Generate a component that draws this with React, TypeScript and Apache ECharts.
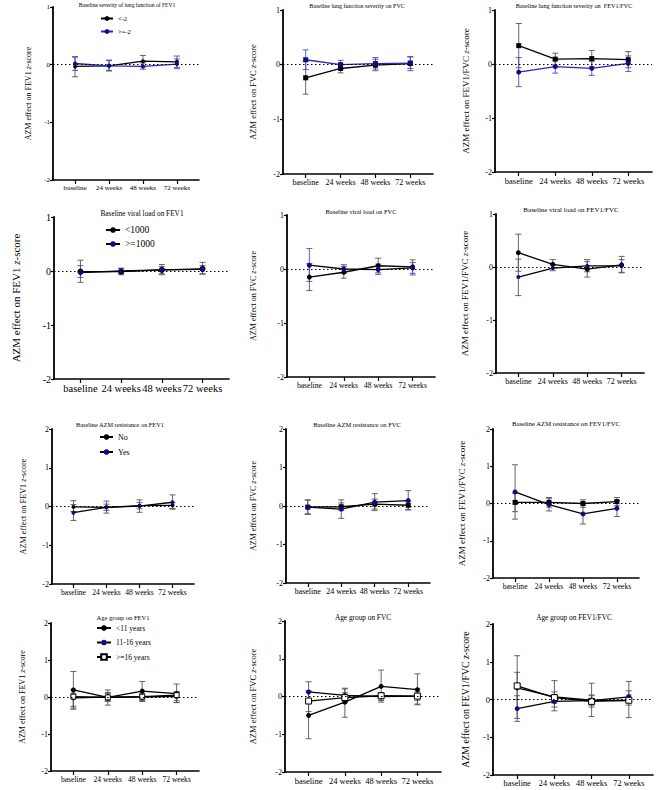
import React, { useEffect, useRef } from "react";
import * as echarts from "echarts";

const categories = ["baseline", "24 weeks", "48 weeks", "72 weeks"];

// Panel 1: Baseline severity of lung function of FEV1
const p1A_mean = [-0.03, -0.02, 0.06, 0.05];
const p1A_lo = [-0.21, -0.11, -0.04, -0.05];
const p1A_hi = [0.13, 0.08, 0.16, 0.15];
const p1B_mean = [0.02, -0.02, -0.03, 0.01];
const p1B_lo = [-0.1, -0.1, -0.08, -0.07];
const p1B_hi = [0.14, 0.07, 0.03, 0.1];
// Panel 2: FVC severity
const p2A_mean = [-0.24, -0.07, -0.01, 0.02];
const p2A_lo = [-0.54, -0.15, -0.11, -0.11];
const p2A_hi = [0.06, 0.01, 0.1, 0.14];
const p2B_mean = [0.09, 0.0, 0.02, 0.03];
const p2B_lo = [-0.09, -0.08, -0.08, -0.07];
const p2B_hi = [0.27, 0.08, 0.13, 0.15];
// Panel 3: FEV1/FVC severity
const p3A_mean = [0.34, 0.09, 0.1, 0.08];
const p3A_lo = [-0.07, -0.02, -0.05, -0.07];
const p3A_hi = [0.75, 0.2, 0.25, 0.23];
const p3B_mean = [-0.15, -0.05, -0.08, 0.01];
const p3B_lo = [-0.42, -0.17, -0.21, -0.14];
const p3B_hi = [0.12, 0.07, 0.05, 0.15];
// Panel 4: viral load FEV1
const p4A_mean = [-0.01, -0.01, 0.02, 0.04];
const p4A_lo = [-0.12, -0.07, -0.07, -0.06];
const p4A_hi = [0.2, 0.05, 0.12, 0.16];
const p4B_mean = [-0.03, 0.0, 0.02, 0.03];
const p4B_lo = [-0.21, -0.05, -0.05, -0.05];
const p4B_hi = [0.1, 0.05, 0.08, 0.1];
// Panel 5: viral load FVC
const p5A_mean = [-0.15, -0.06, 0.06, 0.04];
const p5A_lo = [-0.4, -0.17, -0.07, -0.11];
const p5A_hi = [0.1, 0.05, 0.2, 0.17];
const p5B_mean = [0.07, 0.0, -0.01, 0.02];
const p5B_lo = [-0.23, -0.08, -0.1, -0.08];
const p5B_hi = [0.38, 0.08, 0.09, 0.12];
// Panel 6: viral load FEV1/FVC
const p6A_mean = [0.27, 0.05, -0.04, 0.04];
const p6A_lo = [-0.08, -0.03, -0.19, -0.11];
const p6A_hi = [0.62, 0.14, 0.1, 0.2];
const p6B_mean = [-0.19, -0.02, 0.02, 0.02];
const p6B_lo = [-0.54, -0.07, -0.09, -0.1];
const p6B_hi = [0.15, 0.04, 0.14, 0.14];
// Panel 7: AZM resistance FEV1
const p7A_mean = [-0.01, -0.02, 0.02, 0.03];
const p7A_lo = [-0.13, -0.1, -0.06, -0.05];
const p7A_hi = [0.15, 0.06, 0.1, 0.1];
const p7B_mean = [-0.16, -0.02, 0.01, 0.11];
const p7B_lo = [-0.36, -0.17, -0.15, -0.07];
const p7B_hi = [0.05, 0.14, 0.17, 0.3];
// Panel 8: AZM resistance FVC
const p8A_mean = [-0.03, -0.02, 0.05, 0.02];
const p8A_lo = [-0.2, -0.12, -0.08, -0.1];
const p8A_hi = [0.15, 0.08, 0.18, 0.12];
const p8B_mean = [-0.03, -0.08, 0.1, 0.14];
const p8B_lo = [-0.22, -0.32, -0.12, -0.1];
const p8B_hi = [0.16, 0.16, 0.32, 0.4];
// Panel 9: AZM resistance FEV1/FVC
const p9A_mean = [0.03, 0.03, 0.0, 0.05];
const p9A_lo = [-0.22, -0.1, -0.1, -0.06];
const p9A_hi = [0.28, 0.16, 0.1, 0.16];
const p9B_mean = [0.31, -0.03, -0.28, -0.13];
const p9B_lo = [-0.42, -0.2, -0.55, -0.35];
const p9B_hi = [1.04, 0.14, 0.0, 0.08];
// Panel 10: Age group FEV1
const p10A_mean = [0.19, -0.01, 0.16, 0.09];
const p10A_lo = [-0.3, -0.22, -0.08, -0.15];
const p10A_hi = [0.69, 0.19, 0.42, 0.35];
const p10B_mean = [-0.02, 0.0, 0.0, 0.02];
const p10B_lo = [-0.33, -0.1, -0.1, -0.1];
const p10B_hi = [0.1, 0.1, 0.1, 0.12];
const p10C_mean = [0.01, -0.01, 0.01, 0.05];
const p10C_lo = [-0.25, -0.12, -0.12, -0.15];
const p10C_hi = [0.2, 0.12, 0.15, 0.15];
// Panel 11: Age group FVC
const p11A_mean = [-0.5, -0.15, 0.27, 0.18];
const p11A_lo = [-1.12, -0.55, -0.15, -0.22];
const p11A_hi = [0.12, 0.22, 0.7, 0.6];
const p11B_mean = [0.12, 0.03, 0.0, 0.01];
const p11B_lo = [-0.15, -0.1, -0.1, -0.1];
const p11B_hi = [0.39, 0.2, 0.1, 0.12];
const p11C_mean = [-0.12, -0.03, 0.02, 0.01];
const p11C_lo = [-0.4, -0.15, -0.1, -0.2];
const p11C_hi = [0.15, 0.1, 0.1, 0.2];
// Panel 12: Age group FEV1/FVC
const p12A_mean = [0.31, 0.07, -0.02, -0.03];
const p12A_lo = [-0.5, -0.3, -0.45, -0.48];
const p12A_hi = [1.16, 0.5, 0.43, 0.48];
const p12B_mean = [-0.24, -0.05, -0.03, 0.07];
const p12B_lo = [-0.58, -0.2, -0.15, -0.08];
const p12B_hi = [0.1, 0.1, 0.1, 0.23];
const p12C_mean = [0.36, 0.05, -0.05, -0.02];
const p12C_lo = [0.0, -0.1, -0.2, -0.15];
const p12C_hi = [0.72, 0.2, 0.12, 0.12];

const sevNames = ["<-2", ">=-2"];
const viralNames = ["<1000", ">=1000"];
const resNames = ["No", "Yes"];
const ageNames = ["<11 years", "11-16 years", ">=16 years"];

const FONT = "'Liberation Serif', 'Times New Roman', Times, serif";
const BLACK = "#000";
const NAVY = "#0b0b8c";
const BLUE = "#2626c8";
const GREY = "#555";

type Grp = { name: string; mean: number[]; lo: number[]; hi: number[]; line: string; marker: string; err: string; symbol: string; size: number; open?: boolean };

const G = (name: string, mean: number[], lo: number[], hi: number[], line: string, marker: string, err: string, symbol: string, size: number, open = false): Grp => ({ name, mean, lo, hi, line, marker, err, symbol, size, open });

const panels = [
  { l: 53, r: 199, t: 7, b: 180, ymax: 1, title: "Baseline severity of lung function of FEV1", tx: 127, ty: 5, tfs: 5.6, tick: 7, xfs: 7, nfs: 8, gap: 21, yname: "AZM effect on FEV1 ", legend: { left: 100, top: 15, fs: 6.5, w: 12, h: 6, gap: 6 },
    groups: [G(sevNames[0], p1A_mean, p1A_lo, p1A_hi, BLACK, BLACK, GREY, "circle", 4), G(sevNames[1], p1B_mean, p1B_lo, p1B_hi, BLUE, NAVY, "#4b4bd0", "circle", 4)] },
  { l: 283, r: 433, t: 10, b: 174, ymax: 1, title: "Baseline lung function severity on FVC", tx: 357, ty: 6, tfs: 6, tick: 8, xfs: 8, nfs: 8.5, gap: 26, yname: "AZM effect on FVC ",
    groups: [G(sevNames[0], p2A_mean, p2A_lo, p2A_hi, BLACK, BLACK, GREY, "rect", 5), G(sevNames[1], p2B_mean, p2B_lo, p2B_hi, BLUE, NAVY, "#4b4bd0", "rect", 5)] },
  { l: 495, r: 652, t: 10, b: 172, ymax: 1, title: "Baseline lung function severity on  FEV1/FVC", tx: 574, ty: 5, tfs: 6.2, tick: 8, xfs: 8.5, nfs: 9, gap: 25, yname: "AZM effect on FEV1/FVC ",
    groups: [G(sevNames[0], p3A_mean, p3A_lo, p3A_hi, BLACK, BLACK, GREY, "rect", 5), G(sevNames[1], p3B_mean, p3B_lo, p3B_hi, BLUE, NAVY, "#4b4bd0", "circle", 5)] },
  { l: 54, r: 229, t: 217, b: 379, ymax: 1, title: "Baseline viral load on FEV1", tx: 142, ty: 213, tfs: 7.3, tick: 10, xfs: 10.5, nfs: 11, gap: 33, yname: "AZM effect on FEV1 ", legend: { left: 105, top: 225, fs: 9.5, w: 14, h: 7, gap: 4 },
    groups: [G(viralNames[0], p4A_mean, p4A_lo, p4A_hi, BLACK, BLACK, GREY, "circle", 6), G(viralNames[1], p4B_mean, p4B_lo, p4B_hi, BLACK, NAVY, GREY, "circle", 5)] },
  { l: 287, r: 435, t: 215, b: 377, ymax: 1, title: "Baseline viral load on FVC", tx: 361, ty: 211, tfs: 6.5, tick: 8, xfs: 7.6, nfs: 8, gap: 30, yname: "AZM effect on FVC ",
    groups: [G(viralNames[0], p5A_mean, p5A_lo, p5A_hi, BLACK, BLACK, GREY, "circle", 5), G(viralNames[1], p5B_mean, p5B_lo, p5B_hi, BLACK, NAVY, "#4b4bd0", "circle", 5)] },
  { l: 496, r: 644, t: 214, b: 373, ymax: 1, title: "Baseline viral load on FEV1/FVC", tx: 571, ty: 210, tfs: 7, tick: 8, xfs: 8, nfs: 9, gap: 26.5, yname: "AZM effect on FEV1/FVC ",
    groups: [G(viralNames[0], p6A_mean, p6A_lo, p6A_hi, BLACK, BLACK, GREY, "circle", 5), G(viralNames[1], p6B_mean, p6B_lo, p6B_hi, BLACK, NAVY, GREY, "circle", 4)] },
  { l: 52, r: 194, t: 429, b: 584, ymax: 2, title: "Baseline AZM resistance on FEV1", tx: 120, ty: 424, tfs: 6.3, tick: 8, xfs: 7.6, nfs: 8.2, gap: 25, yname: "AZM effect on FEV1 ", legend: { left: 99, top: 433, fs: 8, w: 13, h: 7, gap: 7 },
    groups: [G(resNames[0], p7A_mean, p7A_lo, p7A_hi, BLACK, BLACK, GREY, "circle", 4), G(resNames[1], p7B_mean, p7B_lo, p7B_hi, BLACK, NAVY, GREY, "circle", 4)] },
  { l: 286, r: 430, t: 429, b: 583, ymax: 2, title: "Baseline AZM resistance on FVC", tx: 357, ty: 424, tfs: 6.5, tick: 8, xfs: 8, nfs: 8, gap: 29, yname: "AZM effect on FVC ",
    groups: [G(resNames[0], p8A_mean, p8A_lo, p8A_hi, BLACK, BLACK, GREY, "rect", 5), G(resNames[1], p8B_mean, p8B_lo, p8B_hi, BLACK, NAVY, GREY, "circle", 5)] },
  { l: 493, r: 639, t: 429, b: 578, ymax: 2, title: "Baseline AZM resistance on FEV1/FVC", tx: 566, ty: 423, tfs: 6.7, tick: 8, xfs: 7.6, nfs: 9, gap: 26.5, yname: "AZM effect on FEV1/FVC ",
    groups: [G(resNames[0], p9A_mean, p9A_lo, p9A_hi, BLACK, BLACK, GREY, "rect", 5), G(resNames[1], p9B_mean, p9B_lo, p9B_hi, BLACK, NAVY, GREY, "circle", 5)] },
  { l: 51, r: 199, t: 623, b: 771, ymax: 2, title: "Age group on FEV1", tx: 123, ty: 617, tfs: 6.5, tick: 8, xfs: 7.6, nfs: 8, gap: 25, yname: "AZM effect on FEV1 ", legend: { left: 96, top: 624, fs: 7.5, w: 14, h: 7, gap: 6.5 },
    groups: [G(ageNames[0], p10A_mean, p10A_lo, p10A_hi, BLACK, BLACK, GREY, "circle", 5), G(ageNames[1], p10B_mean, p10B_lo, p10B_hi, BLACK, NAVY, GREY, "circle", 5), G(ageNames[2], p10C_mean, p10C_lo, p10C_hi, BLACK, "#fff", GREY, "rect", 5, true)] },
  { l: 285, r: 441, t: 621, b: 772, ymax: 2, title: "Age group on FVC", tx: 363, ty: 617, tfs: 7.3, tick: 8, xfs: 8.5, nfs: 8.5, gap: 28, yname: "AZM effect on FVC ",
    groups: [G(ageNames[0], p11A_mean, p11A_lo, p11A_hi, BLACK, BLACK, GREY, "circle", 5), G(ageNames[1], p11B_mean, p11B_lo, p11B_hi, BLACK, NAVY, GREY, "circle", 5), G(ageNames[2], p11C_mean, p11C_lo, p11C_hi, BLACK, "#fff", GREY, "rect", 6, true)] },
  { l: 493, r: 653, t: 624, b: 775, ymax: 2, title: "Age group on FEV1/FVC", tx: 574, ty: 617, tfs: 7.3, tick: 8.5, xfs: 8.3, nfs: 9.8, gap: 23, yname: "AZM effect on FEV1/FVC ",
    groups: [G(ageNames[0], p12A_mean, p12A_lo, p12A_hi, BLACK, BLACK, GREY, "circle", 5), G(ageNames[1], p12B_mean, p12B_lo, p12B_hi, BLACK, NAVY, GREY, "circle", 5), G(ageNames[2], p12C_mean, p12C_lo, p12C_hi, BLACK, "#fff", GREY, "rect", 6, true)] },
];

function buildOption() {
  const grid: any[] = [];
  const xAxis: any[] = [];
  const yAxis: any[] = [];
  const series: any[] = [];
  const legend: any[] = [];
  const elements: any[] = [];
  panels.forEach((p, i) => {
    grid.push({ left: p.l, top: p.t, width: p.r - p.l, height: p.b - p.t, containLabel: false });
    xAxis.push({
      type: "value", gridIndex: i, min: -0.65, max: 3.65,
      axisLine: { show: true, onZero: false, lineStyle: { color: BLACK, width: 1.6 } },
      axisTick: { show: true, customValues: [0, 1, 2, 3], length: 4, lineStyle: { color: BLACK, width: 1.2 } },
      axisLabel: { customValues: [0, 1, 2, 3], formatter: (v: number) => categories[Math.round(v)] ?? "", fontSize: p.xfs, fontFamily: FONT, fontWeight: "normal", color: BLACK, margin: 4 },
      splitLine: { show: false },
    });
    yAxis.push({
      type: "value", gridIndex: i, min: -2, max: p.ymax, interval: 1,
      axisLine: { show: true, onZero: false, lineStyle: { color: BLACK, width: 1.8 } },
      axisTick: { show: true, length: 3, lineStyle: { color: BLACK, width: 1.2 } },
      axisLabel: { fontSize: p.tick, fontFamily: FONT, fontWeight: "normal", color: BLACK, margin: 3 },
      splitLine: { show: false },
      name: p.yname + "{z|z}-score", nameLocation: "middle", nameGap: p.gap,
      nameTextStyle: { fontSize: p.nfs, fontFamily: FONT, fontWeight: "normal", color: BLACK, rich: { z: { fontSize: p.nfs, fontFamily: FONT, fontWeight: "normal", fontStyle: "italic", color: BLACK } } },
    });
    p.groups.forEach((g, k) => {
      series.push({
        type: "custom", name: "err" + i + "_" + k, xAxisIndex: i, yAxisIndex: i, z: 1, silent: true,
        data: g.lo.map((lo, j) => [j, lo, g.hi[j]]),
        encode: { x: 0, y: [1, 2] },
        renderItem: (_params: any, api: any) => {
          const x = api.value(0);
          const a = api.coord([x, api.value(1)]);
          const b = api.coord([x, api.value(2)]);
          const w = 3;
          const style = { stroke: g.err, lineWidth: 0.9, fill: "none" };
          return {
            type: "group", children: [
              { type: "line", shape: { x1: a[0], y1: a[1], x2: b[0], y2: b[1] }, style },
              { type: "line", shape: { x1: a[0] - w, y1: a[1], x2: a[0] + w, y2: a[1] }, style },
              { type: "line", shape: { x1: b[0] - w, y1: b[1], x2: b[0] + w, y2: b[1] }, style },
            ],
          };
        },
      });
      const s: any = {
        type: "line", name: g.name, xAxisIndex: i, yAxisIndex: i, z: 3,
        data: g.mean.map((v, j) => [j, v]),
        symbol: g.symbol, symbolSize: g.size, showSymbol: true,
        lineStyle: { color: g.line, width: 1.3 },
        itemStyle: g.open ? { color: "#fff", borderColor: BLACK, borderWidth: 1 } : { color: g.marker },
      };
      if (k === 0) {
        s.markLine = {
          silent: true, symbol: ["none", "none"], label: { show: false },
          lineStyle: { color: BLACK, type: [1.5, 2.5], width: 1 },
          data: [{ yAxis: 0 }],
        };
      }
      series.push(s);
    });
    if ((p as any).legend) {
      const L = (p as any).legend;
      legend.push({
        orient: "vertical", left: L.left, top: L.top, itemWidth: L.w, itemHeight: L.h, itemGap: L.gap,
        padding: 0,
        data: p.groups.map((g) => g.name),
        textStyle: { fontSize: L.fs, fontFamily: FONT, fontWeight: "normal", color: BLACK },
        selectedMode: false,
      });
    }
    elements.push({
      type: "text", x: p.tx, y: p.ty,
      style: { text: p.title, fontSize: p.tfs, fontFamily: FONT, fontWeight: "normal", fill: BLACK, textAlign: "center", textVerticalAlign: "middle" },
    });
  });
  return { animation: false, backgroundColor: "#fff", textStyle: { fontFamily: FONT }, grid, xAxis, yAxis, series, legend, graphic: { elements } };
}

export default function App() {
  const ref = useRef<HTMLDivElement>(null);
  useEffect(() => {
    if (!ref.current) return;
    const chart = echarts.init(ref.current, undefined, { renderer: "svg" });
    chart.setOption(buildOption() as any);
    return () => chart.dispose();
  }, []);
  return <div ref={ref} style={{ position: "absolute", left: 0, top: 0, width: 669, height: 790, background: "#fff" }} />;
}
